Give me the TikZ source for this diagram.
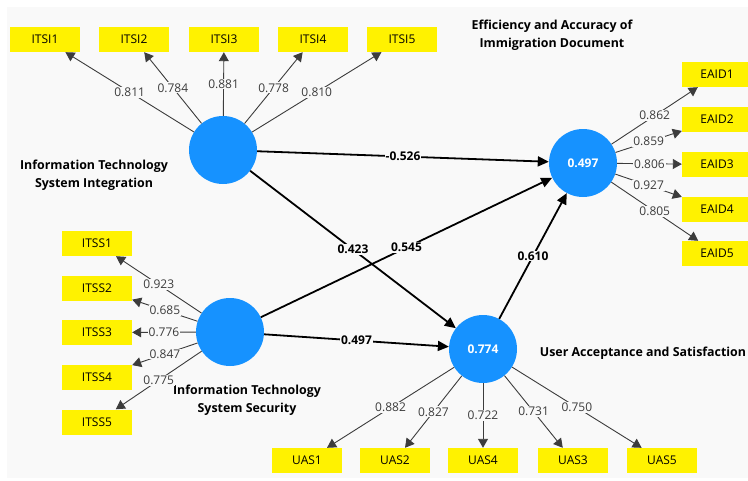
\documentclass[tikz,border=0pt]{standalone}
\usepackage{fontspec}
\setmainfont{Open Sans}
\usepackage{xcolor}
\usepackage{tikz}
\usetikzlibrary{arrows.meta}

\definecolor{lvblue}{RGB}{22,146,255}
\definecolor{bggray}{RGB}{249,249,249}
\definecolor{numgray}{RGB}{60,60,60}

\tikzset{
	latent/.style={circle, fill=lvblue, minimum size=68pt, inner sep=0pt, text=white, font=\bfseries\fontsize{12}{14}\selectfont},
	indicator/.style={rectangle, fill=yellow, minimum width=70pt, minimum height=25pt, inner sep=0pt, font=\fontsize{12}{14}\selectfont},
	loading/.style={draw=numgray, line width=0.9pt, -{Triangle[length=9pt,width=10pt]}},
	weight/.style={midway, fill=bggray, inner sep=1pt, text=numgray, font=\fontsize{12}{14}\selectfont},
	structural/.style={draw=black, line width=1.8pt, -{Triangle[length=11pt,width=10pt]}},
	coef/.style={midway, fill=bggray, inner sep=1pt, font=\bfseries\fontsize{12}{14}\selectfont},
	lvname/.style={align=center, font=\bfseries\fontsize{12.4}{18}\selectfont}
}

\begin{document}
\begin{tikzpicture}[x=1pt, y=-1pt]
	\useasboundingbox (0,0) rectangle (748,480);
	\fill[white] (0,0) rectangle (748,480);
	\fill[bggray] (7,7) rectangle (748,478);
	
	\node[latent] (itsi) at (223,150) {};
	\node[latent] (itss) at (230,332) {};
	\node[latent] (eaid) at (583,163) {0.497};
	\node[latent] (uas) at (483,349) {0.774};
	
	\node[indicator] (itsi1) at (45,39.5) {ITSI1};
	\node[indicator] (itsi2) at (134,39.5) {ITSI2};
	\node[indicator] (itsi3) at (224,39.5) {ITSI3};
	\node[indicator] (itsi4) at (313,39.5) {ITSI4};
	\node[indicator] (itsi5) at (402,39.5) {ITSI5};
	
	\node[indicator] (itss1) at (97,243.5) {ITSS1};
	\node[indicator] (itss2) at (97,288) {ITSS2};
	\node[indicator] (itss3) at (97,332.5) {ITSS3};
	\node[indicator] (itss4) at (97,377) {ITSS4};
	\node[indicator] (itss5) at (97,422) {ITSS5};
	
	\node[indicator] (eaid1) at (717,74.5) {EAID1};
	\node[indicator] (eaid2) at (717,119.5) {EAID2};
	\node[indicator] (eaid3) at (717,164.5) {EAID3};
	\node[indicator] (eaid4) at (717,209) {EAID4};
	\node[indicator] (eaid5) at (717,253.5) {EAID5};
	
	\node[indicator] (uas1) at (307,460.5) {UAS1};
	\node[indicator] (uas2) at (395,460.5) {UAS2};
	\node[indicator] (uas4) at (483,460.5) {UAS4};
	\node[indicator] (uas3) at (573,460.5) {UAS3};
	\node[indicator] (uas5) at (662,460.5) {UAS5};
	
	\node[lvname] (itsiname) at (94,175) {Information Technology\\System Integration};
	\node[lvname] (itssname) at (247,400) {Information Technology\\System Security};
	\node[lvname] (eaidname) at (552,35.5) {Efficiency and Accuracy of\\Immigration Document};
	\node[lvname] (uasname) at (643,353) {User Acceptance and Satisfaction};
	
	% outer loadings
	\draw[loading] (itsi) -- node[weight] {0.811} (itsi1);
	\draw[loading] (itsi) -- node[weight] {0.784} (itsi2);
	\draw[loading] (itsi) -- node[weight] {0.881} (itsi3);
	\draw[loading] (itsi) -- node[weight] {0.778} (itsi4);
	\draw[loading] (itsi) -- node[weight] {0.810} (itsi5);
	
	\draw[loading] (itss) -- node[weight] {0.923} (itss1);
	\draw[loading] (itss) -- node[weight] {0.685} (itss2);
	\draw[loading] (itss) -- node[weight] {0.776} (itss3);
	\draw[loading] (itss) -- node[weight] {0.847} (itss4);
	\draw[loading] (itss) -- node[weight] {0.775} (itss5);
	
	\draw[loading] (eaid) -- node[weight] {0.862} (eaid1);
	\draw[loading] (eaid) -- node[weight] {0.859} (eaid2);
	\draw[loading] (eaid) -- node[weight] {0.806} (eaid3);
	\draw[loading] (eaid) -- node[weight] {0.927} (eaid4);
	\draw[loading] (eaid) -- node[weight] {0.805} (eaid5);
	
	\draw[loading] (uas) -- node[weight] {0.882} (uas1);
	\draw[loading] (uas) -- node[weight] {0.827} (uas2);
	\draw[loading] (uas) -- node[weight] {0.722} (uas4);
	\draw[loading] (uas) -- node[weight] {0.731} (uas3);
	\draw[loading] (uas) -- node[weight] {0.750} (uas5);
	
	% path coefficients
	\draw[structural] (itsi) -- node[coef] {-0.526} (eaid);
	\draw[structural] (itsi) -- node[coef] {0.423} (uas);
	\draw[structural] (itss) -- node[coef] {0.545} (eaid);
	\draw[structural] (itss) -- node[coef] {0.497} (uas);
	\draw[structural] (uas) -- node[coef] {0.610} (eaid);
\end{tikzpicture}
\end{document}
